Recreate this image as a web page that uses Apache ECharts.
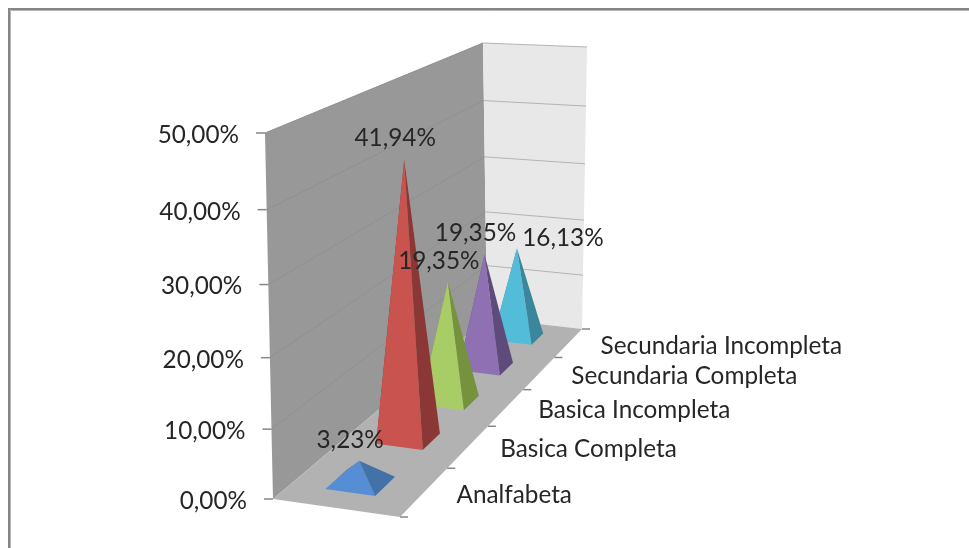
<!DOCTYPE html>
<html>
<head>
<meta charset="utf-8">
<style>html,body{margin:0;padding:0;background:#fff}#c{width:969px;height:548px}</style>
<script src="https://cdn.jsdelivr.net/npm/echarts@6/dist/echarts.min.js"></script>
</head>
<body>
<div id="c"></div>
<script>
const categories = ['Analfabeta', 'Basica Completa', 'Basica Incompleta', 'Secundaria Completa', 'Secundaria Incompleta'];
const values = [3.23, 41.94, 19.35, 19.35, 16.13];
const valueTicks = [0, 10, 20, 30, 40, 50];
const frontColors = ['#558ed5', '#c9534f', '#a9cd66', '#8f71b3', '#53bcd9'];
const sideColors = ['#4272a8', '#8a3735', '#76923c', '#5f4a7c', '#3a879d'];

const FONT = 'Lato, Carlito, sans-serif';
const FS = 24.3;
const TEXT = '#262626';
// screen position of the eight corners of the chart's 3D box
const box = {
  f00: [273, 499], f10: [400, 517], f01: [487, 318], f11: [582, 329],
  t00: [265, 133], t10: [396, 143], t01: [483, 43], t11: [587, 47]
};
const depthPersp = 0.4, heightPersp = 0.06;
const lerp = (a, b, t) => [a[0] + (b[0] - a[0]) * t, a[1] + (b[1] - a[1]) * t];
// maps a point of the flat hidden grid + a lateral position u onto the box
function project(cs, p, u) {
  const d = (p[0] - cs.x) / cs.width;
  const v = (cs.y + cs.height - p[1]) / cs.height;
  const D = d * (1 + depthPersp) / (1 + depthPersp * d);
  const V = v / (1 + heightPersp * (1 - v));
  const bottom = lerp(lerp(box.f00, box.f10, u), lerp(box.f01, box.f11, u), D);
  const top = lerp(lerp(box.t00, box.t10, u), lerp(box.t01, box.t11, u), D);
  return lerp(bottom, top, V);
}
const poly = (points, fill, z2) => ({ type: 'polygon', shape: { points }, style: { fill, stroke: null }, z2: z2 || 0 });
const line = (a, b, stroke, lineWidth, z2) => ({
  type: 'line', shape: { x1: a[0], y1: a[1], x2: b[0], y2: b[1] },
  style: { stroke, lineWidth: lineWidth || 1, fill: null }, z2: z2 || 0
});
const text = (str, x, y, align, z2) => ({
  type: 'text', z2: z2 || 100,
  style: { text: str, x, y, align, verticalAlign: 'middle', fill: TEXT, fontFamily: FONT, fontSize: FS }
});
const pct = v => v.toFixed(2).replace('.', ',') + '%';

function renderWalls(params, api) {
  const cs = params.coordSys;
  const L = cs.x, R = cs.x + cs.width, B = cs.y + cs.height, T = cs.y;
  const fl = project(cs, [L, B], 0), fr = project(cs, [L, B], 1), bl = project(cs, [R, B], 0), br = project(cs, [R, B], 1);
  const tl = project(cs, [L, T], 0), tb = project(cs, [R, T], 0), tr = project(cs, [R, T], 1);
  return {
    type: 'group', children: [
      poly([tl, tb, bl, fl], '#989898'),
      poly([tb, tr, br, bl], '#e8e8e8'),
      poly([fl, bl, br, fr], '#b2b2b2')
    ]
  };
}
function renderValueTick(params, api) {
  const cs = params.coordSys;
  const v = api.value(1);
  const y = api.coord([0, v])[1];
  const left = project(cs, [cs.x, y], 0);
  const mid = project(cs, [cs.x + cs.width, y], 0);
  const right = project(cs, [cs.x + cs.width, y], 1);
  const kids = [line([left[0] - 9, left[1]], left, '#868686', 1.5)];
  if (v > 0) {
    kids.push(line(left, mid, '#909090', 1));
    kids.push(line(mid, right, '#b4b4b4', 1));
  }
  kids.push(text(pct(v), left[0] - 26, left[1] + 2, 'right'));
  return { type: 'group', children: kids };
}
function renderCategoryTick(params, api) {
  const cs = params.coordSys;
  const i = api.value(0);
  const c = api.coord([i, 0]);
  const band = api.size([1, 0])[0];
  const edge = project(cs, [c[0] - band / 2, c[1]], 1);
  const kids = [line(edge, [edge[0] + 8, edge[1]], '#868686', 1.5)];
  if (i === categories.length - 1) {
    const far = project(cs, [c[0] + band / 2, c[1]], 1);
    kids.push(line(far, [far[0] + 8, far[1]], '#868686', 1.5));
  }
  const mid = project(cs, c, 1);
  kids.push(text(categories[i], mid[0] + 32, mid[1] + 3, 'left'));
  return { type: 'group', children: kids };
}
function renderPyramid(params, api) {
  const cs = params.coordSys;
  const i = api.value(0), v = api.value(1);
  const c = api.coord([i, 0]);
  const top = api.coord([i, v]);
  const band = api.size([1, 0])[0];
  const uL = 0.28, uR = 0.68, half = band * 0.2;
  const z = 10 + (categories.length - i) * 3;
  const Lp = project(cs, [c[0] - half, c[1]], uL);
  const Fp = project(cs, [c[0] - half, c[1]], uR);
  const Rp = project(cs, [c[0] + half, c[1]], uR);
  const Bp = project(cs, [c[0] + half, c[1]], uL);
  const apex = project(cs, top, 0.47);
  const off = i === categories.length - 1 ? [46, -10] : [-9, -21];
  return {
    type: 'group', children: [
      poly([Lp, Bp, apex], sideColors[i], z),
      poly([Lp, Fp, apex], frontColors[i], z + 1),
      poly([Fp, Rp, apex], sideColors[i], z + 1),
      text(pct(v), apex[0] + off[0], apex[1] + off[1], 'center', 100)
    ]
  };
}

const chart = echarts.init(document.getElementById('c'), null, { renderer: 'canvas' });
chart.setOption({
  animation: false,
  backgroundColor: '#ffffff',
  grid: { left: 100, right: 100, top: 100, bottom: 100 },
  xAxis: { type: 'category', data: categories, show: false, boundaryGap: true },
  yAxis: { type: 'value', min: 0, max: 50, interval: 10, show: false },
  graphic: [{
    type: 'polyline', silent: true,
    shape: { points: [[10.5, 548], [10.5, 10.5], [969, 10.5]] },
    style: { stroke: '#b4b4b4', lineWidth: 1, fill: null }
  }, {
    type: 'polyline', silent: true,
    shape: { points: [[9, 548], [9, 9], [969, 9]] },
    style: { stroke: '#868686', lineWidth: 2, fill: null }
  }],
  series: [
    { type: 'custom', z: 1, silent: true, renderItem: renderWalls, data: [[0, 0]], encode: { x: 0, y: 1 } },
    { type: 'custom', z: 2, silent: true, renderItem: renderValueTick, data: valueTicks.map(v => [0, v]), encode: { x: 0, y: 1 } },
    { type: 'custom', z: 2, silent: true, renderItem: renderCategoryTick, data: categories.map((n, i) => [i, 0]), encode: { x: 0, y: 1 } },
    { type: 'custom', z: 3, silent: true, renderItem: renderPyramid, data: values.map((v, i) => [i, v]), encode: { x: 0, y: 1 } }
  ]
});
</script>
</body>
</html>
